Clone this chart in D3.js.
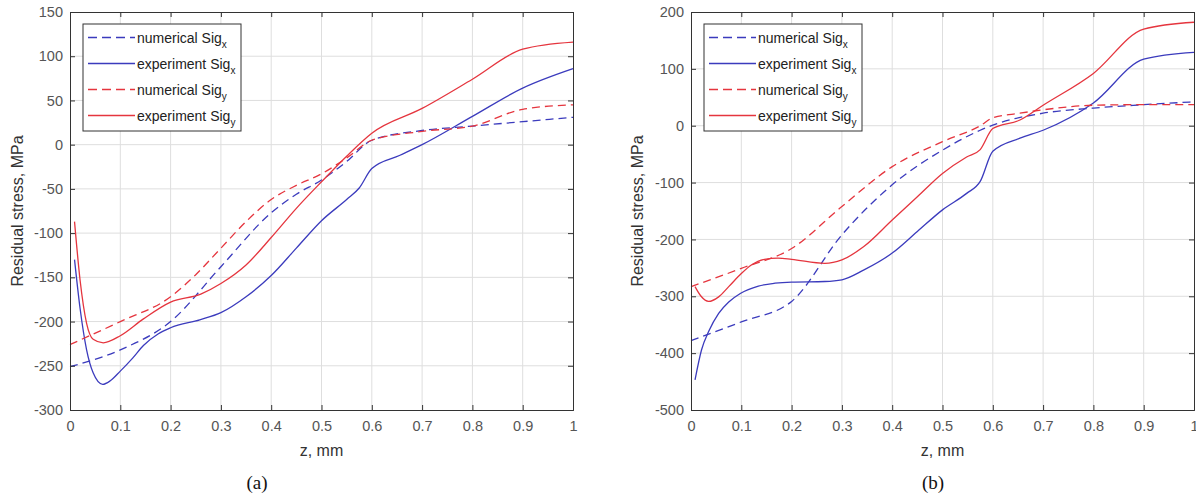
<!DOCTYPE html>
<html>
<head>
<meta charset="utf-8">
<script src="https://cdn.jsdelivr.net/npm/d3@7"></script>
<style>
  body { margin: 0; background: #fff; }
  svg { font-family: "Liberation Sans", Arial, sans-serif; }
</style>
</head>
<body>
<svg></svg>
<script>
var width = 1196,
    height = 496;

// x ticks shared by both panels
var xTicks = [0, 0.1, 0.2, 0.3, 0.4, 0.5, 0.6, 0.7, 0.8, 0.9, 1];

// panel (a) : [z (mm), stress (MPa)]
var aTicks = [150, 100, 50, 0, -50, -100, -150, -200, -250, -300];
var aNumX = [[0,-251],[0.1,-232],[0.2,-200],[0.3,-138],[0.4,-77],[0.45,-56],[0.5,-40],[0.55,-19],[0.6,5],[0.7,16],[0.8,21],[0.9,26],[1,31]];
var aExpX = [[0.009,-130],[0.02,-185],[0.033,-232],[0.046,-258],[0.065,-271],[0.08,-267],[0.1,-256],[0.125,-241],[0.146,-227],[0.175,-214],[0.2,-207],[0.258,-198],[0.3,-190],[0.35,-172],[0.4,-148],[0.45,-117],[0.5,-86],[0.55,-62],[0.575,-49],[0.6,-27],[0.656,-12],[0.7,0],[0.8,32],[0.9,64],[1,86]];
var aNumY = [[0,-226],[0.1,-200],[0.2,-172],[0.25,-147],[0.3,-117],[0.35,-87],[0.4,-62],[0.45,-46],[0.5,-33],[0.55,-15],[0.6,5],[0.7,15],[0.8,21],[0.9,40],[1,45]];
var aExpY = [[0.009,-87],[0.02,-153],[0.033,-202],[0.046,-220],[0.066,-224],[0.1,-216],[0.146,-197],[0.2,-178],[0.26,-169],[0.3,-157],[0.35,-136],[0.4,-105],[0.45,-72],[0.5,-42],[0.55,-13],[0.6,13],[0.7,41],[0.8,74],[0.9,108],[1,116]];

// panel (b)
var bTicks = [200, 100, 0, -100, -200, -300, -400, -500];
var bNumX = [[0,-378],[0.1,-345],[0.2,-309],[0.3,-192],[0.4,-104],[0.5,-43],[0.575,-8],[0.6,1],[0.7,22],[0.8,31],[0.9,37],[1,42]];
var bExpX = [[0.008,-447],[0.021,-394],[0.035,-362],[0.055,-330],[0.075,-310],[0.098,-295],[0.134,-282],[0.167,-277],[0.2,-275],[0.266,-274],[0.3,-271],[0.343,-254],[0.4,-224],[0.45,-186],[0.5,-148],[0.548,-119],[0.575,-98],[0.6,-45],[0.654,-22],[0.7,-8],[0.8,40],[0.9,117],[1,129]];
var bNumY = [[0,-283],[0.1,-251],[0.2,-216],[0.3,-142],[0.4,-72],[0.5,-28],[0.575,0],[0.6,14],[0.654,22],[0.7,28],[0.8,36],[0.9,37],[1,37]];
var bExpY = [[0.008,-283],[0.02,-300],[0.035,-309],[0.055,-301],[0.075,-283],[0.1,-260],[0.12,-245],[0.146,-235],[0.173,-233],[0.2,-235],[0.266,-242],[0.3,-236],[0.343,-213],[0.4,-166],[0.45,-125],[0.5,-84],[0.548,-55],[0.575,-42],[0.6,-5],[0.654,10],[0.7,36],[0.8,92],[0.9,170],[1,182]];

var blue = "#3b3bbd",
    red = "#e5353e";

var svg = d3.select("svg")
    .attr("width", width)
    .attr("height", height);

svg.append("rect").attr("width", width).attr("height", height).attr("fill", "#fff");

function drawPanel(opt) {
  var x = d3.scaleLinear().domain([0, 1]).range([opt.left, opt.right]);
  var y = d3.scaleLinear().domain(opt.yDomain).range([410, 12]);
  var g = svg.append("g");

  //grid
  g.selectAll(".vgrid").data(xTicks.slice(1, -1)).enter().append("line")
    .attr("x1", function(d){ return x(d); }).attr("x2", function(d){ return x(d); })
    .attr("y1", y.range()[0]).attr("y2", y.range()[1])
    .attr("stroke", "#dedede").attr("stroke-width", 1);
  g.selectAll(".hgrid").data(opt.yTicks.slice(1, -1)).enter().append("line")
    .attr("y1", function(d){ return y(d); }).attr("y2", function(d){ return y(d); })
    .attr("x1", opt.left).attr("x2", opt.right)
    .attr("stroke", "#dedede").attr("stroke-width", 1);

  //curves
  var line = d3.line()
    .x(function(d){ return x(d[0]); })
    .y(function(d){ return y(d[1]); })
    .curve(d3.curveMonotoneX);
  opt.series.forEach(function(s){
    g.append("path")
      .attr("d", line(s.data))
      .attr("fill", "none")
      .attr("stroke", s.color)
      .attr("stroke-width", 1.3)
      .attr("stroke-dasharray", s.dashed ? "8,5" : null);
  });

  //axes (ticks inside, box on); plain hyphen minus like the original
  var fmt = function(d){ return String(d); };
  var bottom = g.append("g").attr("transform", "translate(0,410)")
    .call(d3.axisBottom(x).tickValues(xTicks).tickSize(-5).tickPadding(11).tickFormat(fmt));
  var top = g.append("g").attr("transform", "translate(0,12)")
    .call(d3.axisTop(x).tickValues(xTicks).tickSize(-5).tickFormat(""));
  var left = g.append("g").attr("transform", "translate(" + opt.left + ",0)")
    .call(d3.axisLeft(y).tickValues(opt.yTicks).tickSize(-5).tickPadding(7).tickFormat(fmt));
  var right = g.append("g").attr("transform", "translate(" + opt.right + ",0)")
    .call(d3.axisRight(y).tickValues(opt.yTicks).tickSize(-5).tickFormat(""));
  [bottom, top, left, right].forEach(function(a){
    a.select(".domain").attr("stroke", "#333").attr("stroke-width", 1);
    a.selectAll(".tick line").attr("stroke", "#333");
    a.selectAll("text").attr("fill", "#555").style("font-size", "14.5px")
      .style("font-family", "'Liberation Sans', Arial, sans-serif");
  });

  //axis labels
  g.append("text")
    .attr("transform", "translate(" + opt.yLabelX + "," + ((12 + 410) / 2) + ") rotate(-90)")
    .attr("text-anchor", "middle")
    .attr("dy", "0.35em")
    .attr("fill", "#333")
    .style("font-size", "16px")
    .text("Residual stress, MPa");
  g.append("text")
    .attr("x", (opt.left + opt.right) / 2)
    .attr("y", 456)
    .attr("text-anchor", "middle")
    .attr("fill", "#333")
    .style("font-size", "16px")
    .text("z, mm");

  //caption
  g.append("text")
    .attr("x", opt.captionX)
    .attr("y", 489)
    .attr("text-anchor", "middle")
    .attr("fill", "#111")
    .style("font-family", "'Liberation Serif', 'DejaVu Serif', serif")
    .style("font-size", "19px")
    .text(opt.caption);

  //legend
  var lg = g.append("g").attr("transform", "translate(" + (opt.left + 13) + ",24)");
  lg.append("rect")
    .attr("width", 158).attr("height", 107)
    .attr("fill", "#fff").attr("stroke", "#333").attr("stroke-width", 1);
  opt.series.forEach(function(s, i){
    var yy = 13.5 + i * 26;
    lg.append("line")
      .attr("x1", 5).attr("x2", 52).attr("y1", yy).attr("y2", yy)
      .attr("stroke", s.color).attr("stroke-width", 1.3)
      .attr("stroke-dasharray", s.dashed ? "9,5" : null);
    var t = lg.append("text")
      .attr("x", 54).attr("y", yy + 5)
      .attr("fill", "#222")
      .style("font-size", "14px");
    t.append("tspan").text(s.label);
    t.append("tspan").attr("dy", 5).style("font-size", "10px").text(s.sub);
  });
}

drawPanel({
  left: 70, right: 573, yDomain: [-300, 150], yTicks: aTicks,
  yLabelX: 17, captionX: 257, caption: "(a)",
  series: [
    {data: aNumX, color: blue, dashed: true, label: "numerical Sig", sub: "x"},
    {data: aExpX, color: blue, dashed: false, label: "experiment Sig", sub: "x"},
    {data: aNumY, color: red, dashed: true, label: "numerical Sig", sub: "y"},
    {data: aExpY, color: red, dashed: false, label: "experiment Sig", sub: "y"}
  ]
});

drawPanel({
  left: 691, right: 1194, yDomain: [-500, 200], yTicks: bTicks,
  yLabelX: 637, captionX: 933, caption: "(b)",
  series: [
    {data: bNumX, color: blue, dashed: true, label: "numerical Sig", sub: "x"},
    {data: bExpX, color: blue, dashed: false, label: "experiment Sig", sub: "x"},
    {data: bNumY, color: red, dashed: true, label: "numerical Sig", sub: "y"},
    {data: bExpY, color: red, dashed: false, label: "experiment Sig", sub: "y"}
  ]
});
</script>
</body>
</html>
